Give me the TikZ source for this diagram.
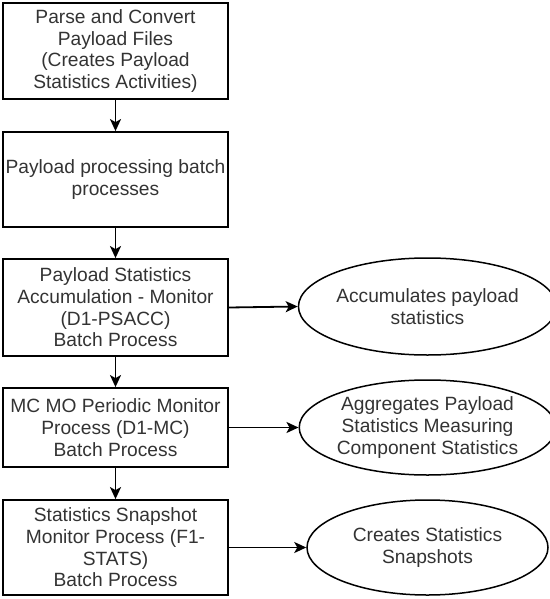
\documentclass[tikz,border=0pt]{standalone}
\usepackage{fontspec}
\setmainfont{Liberation Sans}
\usetikzlibrary{arrows.meta,shapes.geometric}
\definecolor{txt}{gray}{0.2}
\begin{document}
\begin{tikzpicture}[x=1pt,y=-1pt,
  every node/.style={font=\fontsize{19.2}{21.7}\selectfont, text=txt, align=center, inner sep=0pt},
  procbox/.style={draw=black, line width=1.8pt, rectangle, minimum width=225pt},
  outcome/.style={draw=black, line width=1.5pt, ellipse, minimum width=241pt},
  flow/.style={draw=black, line width=1.8pt, -{Stealth[length=12pt,width=11pt,inset=3pt]}}]
\useasboundingbox (0,0) rectangle (549,599);
\node[procbox, minimum height=96pt] (b1) at (115.5,51) {Parse and Convert\\Payload Files\\(Creates Payload\\Statistics Activities)};
\node[procbox, minimum height=95pt] (b2) at (115.5,179.5) {Payload processing batch\\processes};
\node[procbox, minimum height=97pt] (b3) at (115.5,307.5) {Payload Statistics\\Accumulation - Monitor\\(D1-PSACC)\\Batch Process};
\node[procbox, minimum height=79pt] (b4) at (115.5,427.5) {MC MO Periodic Monitor\\Process (D1-MC)\\Batch Process};
\node[procbox, minimum height=95pt] (b5) at (115.5,547.5) {Statistics Snapshot\\Monitor Process (F1-\\STATS)\\Batch Process};
\node[outcome, minimum height=97pt] (e1) at (427.5,306.5) {Accumulates payload\\statistics};
\node[outcome, minimum height=95pt] (e2) at (427.5,427.5) {Aggregates Payload\\Statistics Measuring\\Component Statistics};
\node[outcome, minimum height=95pt] (e3) at (427.5,547.5) {Creates Statistics\\Snapshots};
\draw[flow] (b1) -- (b2);
\draw[flow] (b2) -- (b3);
\draw[flow] (b3) -- (b4);
\draw[flow] (b4) -- (b5);
\draw[flow] (b3.east) -- (e1.west);
\draw[flow] (b4.east) -- (e2.west);
\draw[flow] (b5.east) -- (e3.west);
\end{tikzpicture}
\end{document}
